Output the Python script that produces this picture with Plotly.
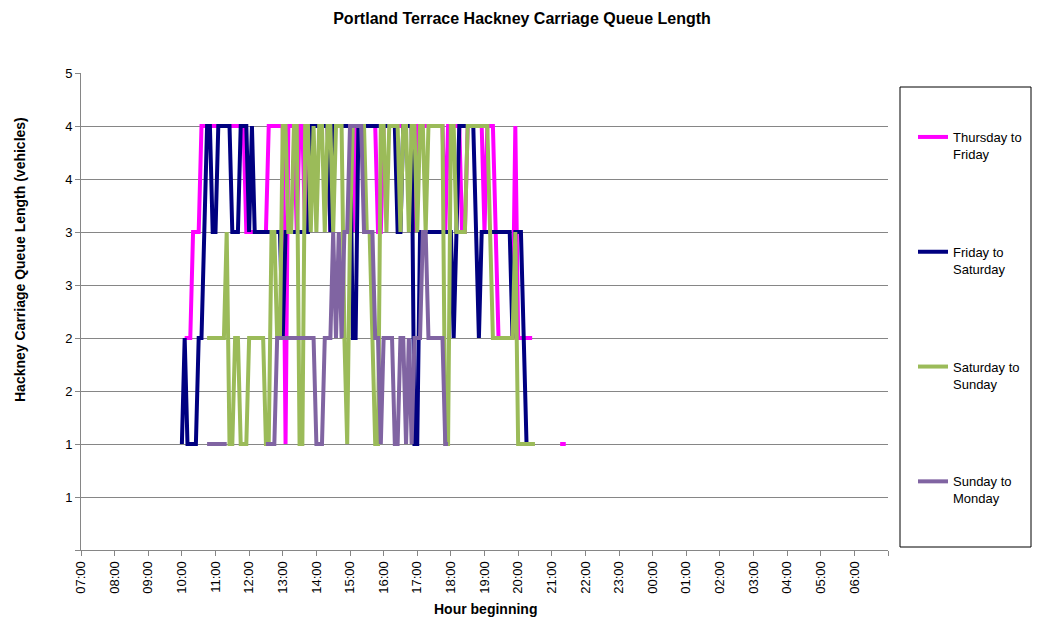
import plotly.graph_objects as go

# 5-minute sampling times, 10:00 to 21:55
times = [f"{10 + i // 12:02d}:{(i % 12) * 5:02d}" for i in range(144)]

N = None
# one row per hour beginning (10:00 ... 21:00), 12 x 5-min readings
thu_fri = [
    [N, 2, 2, 2, 3, 3, 3, 4, 4, 4, 4, 4],
    [4, 4, 4, 4, 4, 4, 4, 4, 4, 4, 4, 3],
    [3, 3, 3, 3, 3, 3, 3, 4, 4, 4, 4, 4],
    [4, 1, 4, 4, 4, 3, 4, 4, 3, 4, 4, 4],
    [4, 4, 4, 4, 4, 3, 4, 4, 4, 4, 4, 4],
    [4, 3, 4, 4, 4, 4, 4, 4, 4, 4, 3, 3],
    [4, 4, 4, 4, 4, 4, 4, 4, 4, 4, 4, 3],
    [4, 4, 4, 4, 4, 4, 4, 4, 4, 4, 3, 4],
    [4, 4, 4, 4, 3, 3, 4, 4, 4, 4, 4, 4],
    [3, 4, 4, 4, 3, 2, 2, 2, 2, 2, 2, 4],
    [2, 2, 2, 2, 2, 2, N, N, N, N, N, N],
    [N, N, N, 1, 1, 1, N, N, N, N, N, N],
]
fri_sat = [
    [1, 2, 1, 1, 1, 1, 2, 2, 3, 4, 4, 3],
    [3, 4, 4, 4, 4, 4, 3, 3, 3, 4, 4, 4],
    [3, 4, 3, 3, 3, 3, 3, 3, 3, 3, 3, 3],
    [2, 3, 3, 3, 3, 3, 3, 3, 3, 3, 4, 4],
    [4, 4, 4, 4, 4, 3, 4, 4, 4, 4, 4, 4],
    [4, 2, 2, 4, 4, 4, 4, 4, 4, 4, 4, 4],
    [4, 4, 4, 4, 4, 3, 3, 4, 4, 4, 4, 1],
    [1, 3, 3, 3, 3, 3, 3, 3, 3, 3, 3, 3],
    [3, 2, 3, 4, 4, 4, 4, 4, 4, 3, 2, 3],
    [3, 3, 3, 3, 3, 3, 3, 3, 3, 3, 2, 3],
    [3, 3, 2, 1, N, N, N, N, N, N, N, N],
    [N, N, N, N, N, N, N, N, N, N, N, N],
]
sat_sun = [
    [N, N, N, N, N, N, N, N, N, 2, 2, 2],
    [2, 2, 2, 2, 3, 1, 1, 2, 2, 1, 1, 1],
    [2, 2, 2, 2, 2, 2, 1, 1, 3, 3, 2, 2],
    [4, 4, 3, 3, 4, 4, 1, 1, 4, 4, 3, 4],
    [3, 4, 4, 3, 4, 4, 3, 4, 4, 4, 2, 1],
    [3, 4, 4, 4, 4, 4, 3, 3, 2, 1, 1, 4],
    [4, 3, 4, 4, 4, 4, 3, 4, 4, 3, 4, 4],
    [3, 4, 4, 3, 4, 4, 4, 4, 4, 4, 1, 1],
    [4, 4, 3, 3, 3, 3, 4, 4, 4, 4, 4, 4],
    [4, 4, 3, 2, 2, 2, 2, 2, 2, 2, 2, 3],
    [1, 1, 1, 1, 1, 1, 1, N, N, N, N, N],
    [N, N, N, N, N, N, N, N, N, N, N, N],
]
sun_mon = [
    [N, N, N, N, N, N, N, N, N, 1, 1, 1],
    [1, 1, 1, 1, 1, N, N, N, N, N, N, N],
    [N, N, N, N, N, N, 1, 1, 1, 1, 2, 2],
    [2, 2, 2, 2, 2, 2, 2, 2, 2, 2, 2, 2],
    [1, 1, 1, 2, 2, 2, 3, 2, 3, 2, 3, 3],
    [4, 4, 4, 4, 4, 3, 3, 3, 3, 2, 2, 1],
    [2, 2, 2, 2, 1, 1, 2, 2, 1, 2, 1, 2],
    [2, 2, 3, 3, 2, 2, 2, 2, 2, 2, 1, 1],
    [N, N, N, N, N, N, N, N, N, N, N, N],
    [N, N, N, N, N, N, N, N, N, N, N, N],
    [N, N, N, N, N, N, N, N, N, N, N, N],
    [N, N, N, N, N, N, N, N, N, N, N, N],
]

series_names = ["Thursday to<br>Friday", "Friday to<br>Saturday",
                "Saturday to<br>Sunday", "Sunday to<br>Monday"]
series_colors = ["#FF00FF", "#000080", "#9BBB59", "#8064A2"]

hour_labels = [f"{h % 24:02d}:00" for h in range(7, 31)] + [""]
hour_ticks = list(range(7, 32))
y_ticks = [0, 0.5, 1, 1.5, 2, 2.5, 3, 3.5, 4, 4.5]
y_labels = ["", "1", "1", "2", "2", "3", "3", "4", "4", "5"]

x_hours = [int(t[:2]) + int(t[3:]) / 60 for t in times]

FONT = "Liberation Sans, Arial, sans-serif"
GRID = "#868686"
# the page body adds an 8px margin, so the figure is drawn 8px smaller
W, H, OFF = 1041 - 8, 619 - 8, 8

fig = go.Figure()
for i, (name, rows, color) in enumerate(
        zip(series_names, [thu_fri, fri_sat, sat_sun, sun_mon], series_colors)):
    vals = [v for row in rows for v in row]
    fig.add_trace(go.Scatter(
        x=x_hours, y=vals, name=name, mode="lines",
        line=dict(color=color, width=4),
        connectgaps=False, legendgroup=f"g{i}",
    ))

fig.update_layout(
    width=W, height=H,
    paper_bgcolor="white", plot_bgcolor="white",
    margin=dict(l=81 - OFF, r=W - (888 - OFF), t=73 - OFF, b=H - (550 - OFF)),
    font=dict(family=FONT, size=13, color="black"),
    title=dict(text="<b>Portland Terrace Hackney Carriage Queue Length</b>",
               x=(522 - OFF) / W, xanchor="center", y=1 - (18 - OFF) / H, yanchor="middle",
               font=dict(size=16)),
    showlegend=True,
    legend=dict(x=(913 - 81) / 807, xanchor="left", y=(550 - 122) / 477, yanchor="top",
                bgcolor="rgba(0,0,0,0)", borderwidth=0, valign="top",
                tracegroupgap=78, itemwidth=30, font=dict(size=13)),
    xaxis=dict(range=[7, 31], tickvals=hour_ticks, ticktext=hour_labels,
               tickangle=-90, showgrid=False, zeroline=False,
               showline=True, linecolor=GRID, ticks="outside", ticklen=5,
               tickcolor=GRID, tickfont=dict(size=13)),
    yaxis=dict(range=[0, 4.5], tickvals=y_ticks, ticktext=y_labels,
               showgrid=True, gridcolor=GRID, gridwidth=1, zeroline=False,
               showline=True, linecolor=GRID, ticks="outside", ticklen=5,
               tickcolor=GRID, tickfont=dict(size=13)),
)

# legend frame
fig.add_shape(type="rect", xref="paper", yref="paper",
              x0=(900 - 81) / 807, x1=(1031 - 81) / 807,
              y0=(550 - 547) / 477, y1=(550 - 87) / 477,
              line=dict(color="black", width=1), fillcolor="rgba(0,0,0,0)")

fig.add_annotation(text="<b>Hackney Carriage Queue Length (vehicles)</b>",
                   xref="paper", yref="paper", x=(20 - 81) / 807, y=(550 - 260) / 477,
                   textangle=-90, showarrow=False, font=dict(size=14),
                   xanchor="center", yanchor="middle")
fig.add_annotation(text="<b>Hour beginning</b>",
                   xref="paper", yref="paper", x=(485 - 81) / 807, y=-(609 - 550) / 477,
                   showarrow=False, font=dict(size=14),
                   xanchor="center", yanchor="middle")

fig.write_html("out.html")
